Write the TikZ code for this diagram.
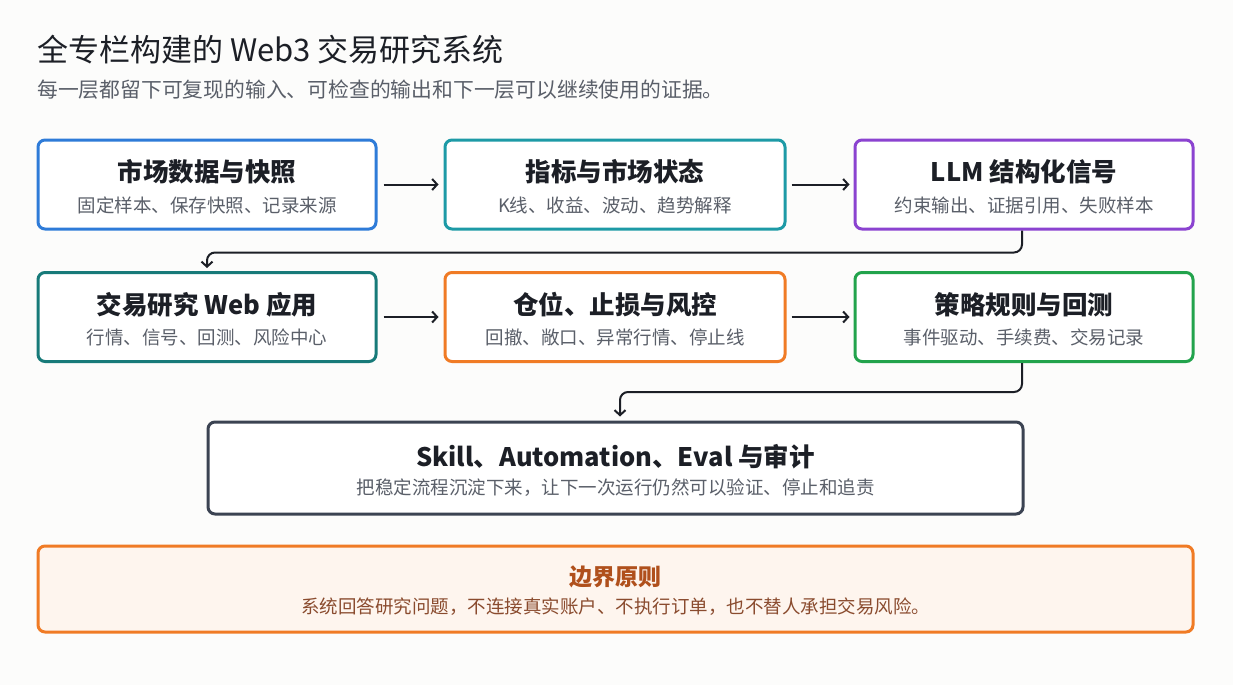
\documentclass[tikz,border=0pt]{standalone}
\usepackage{fontspec}
\setmainfont{Noto Sans CJK SC}
\usetikzlibrary{arrows.meta}
\definecolor{cblue}{HTML}{2E7BD8}
\definecolor{cteal}{HTML}{1D9AA6}
\definecolor{cpurple}{HTML}{8B43D0}
\definecolor{cdteal}{HTML}{177A79}
\definecolor{corange}{HTML}{F07B25}
\definecolor{cgreen}{HTML}{22A34C}
\definecolor{cslate}{HTML}{3B4352}
\definecolor{ctext}{HTML}{1C1F26}
\definecolor{csub}{HTML}{5A5F69}
\definecolor{cbtitle}{HTML}{B0501C}
\definecolor{cbtext}{HTML}{8A4B2E}
\definecolor{cbfill}{HTML}{FEF5EE}
\definecolor{cbg}{HTML}{FCFCFB}
\tikzset{
  box/.style={draw, line width=3pt, rounded corners=7pt, fill=white, minimum height=89pt, inner sep=0pt},
  ttl/.style={font=\bfseries\fontsize{25.5}{30}\selectfont, text=ctext, inner sep=0pt},
  sub/.style={font=\fontsize{18.5}{22}\selectfont, text=csub, inner sep=0pt},
  conn/.style={draw=ctext, line width=2pt, -{Straight Barb[length=5pt,width=11pt,line width=2pt]}},
}
\begin{document}
\begin{tikzpicture}[x=1pt,y=-1pt]
\fill[cbg] (0,0) rectangle (1233,685);
\useasboundingbox (0,0) rectangle (1233,685);
\node[anchor=west, inner sep=0pt, font=\fontsize{31}{36}\selectfont, text=ctext] (title) at (37,50) {全专栏构建的 Web3 交易研究系统};
\node[anchor=west, inner sep=0pt, font=\fontsize{20.8}{24}\selectfont, text=csub] (subtitle) at (37,90) {每一层都留下可复现的输入、可检查的输出和下一层可以继续使用的证据。};
% row 1
\node[box, draw=cblue, minimum width=338pt] (b1) at (207,184.5) {};
\node[box, draw=cteal, minimum width=340pt] (b2) at (615,184.5) {};
\node[box, draw=cpurple, minimum width=338pt] (b3) at (1024,184.5) {};
% row 2
\node[box, draw=cdteal, minimum width=338pt] (b4) at (207,317) {};
\node[box, draw=corange, minimum width=340pt] (b5) at (615,317) {};
\node[box, draw=cgreen, minimum width=338pt] (b6) at (1024,317) {};
% wide
\node[box, draw=cslate, minimum width=815pt, minimum height=92pt] (b7) at (615.5,468) {};
\node[box, draw=corange, fill=cbfill, minimum width=1155pt, minimum height=86pt] (b8) at (615.5,589) {};
% texts
\node[ttl] (t1) at ([yshift=12.5]b1.center) {市场数据与快照};
\node[sub] (s1) at ([yshift=-20.5]b1.center) {固定样本、保存快照、记录来源};
\node[ttl] (t2) at ([yshift=12.5]b2.center) {指标与市场状态};
\node[sub] (s2) at ([yshift=-20.5]b2.center) {K线、收益、波动、趋势解释};
\node[ttl] (t3) at ([yshift=12.5]b3.center) {LLM 结构化信号};
\node[sub] (s3) at ([yshift=-20.5]b3.center) {约束输出、证据引用、失败样本};
\node[ttl] (t4) at ([yshift=12.5]b4.center) {交易研究 Web 应用};
\node[sub] (s4) at ([yshift=-20.5]b4.center) {行情、信号、回测、风险中心};
\node[ttl] (t5) at ([yshift=12.5]b5.center) {仓位、止损与风控};
\node[sub] (s5) at ([yshift=-20.5]b5.center) {回撤、敞口、异常行情、停止线};
\node[ttl] (t6) at ([yshift=12.5]b6.center) {策略规则与回测};
\node[sub] (s6) at ([yshift=-20.5]b6.center) {事件驱动、手续费、交易记录};
\node[ttl] (t7) at ([yshift=11]b7.center) {Skill、Automation、Eval 与审计};
\node[sub] (s7) at ([yshift=-20]b7.center) {把稳定流程沉淀下来，让下一次运行仍然可以验证、停止和追责};
\node[ttl, text=cbtitle, font=\bfseries\fontsize{23}{27}\selectfont] (t8) at ([yshift=12]b8.center) {边界原则};
\node[sub, text=cbtext] (s8) at ([yshift=-18]b8.center) {系统回答研究问题，不连接真实账户、不执行订单，也不替人承担交易风险。};
% connectors
\draw[conn, shorten <=6pt, shorten >=5pt] (b1.east) -- (b2.west);
\draw[conn, shorten <=5pt, shorten >=4pt] (b2.east) -- (b3.west);
\draw[conn, shorten <=6pt, shorten >=5pt] (b4.east) -- (b5.west);
\draw[conn, shorten <=5pt, shorten >=4pt] (b5.east) -- (b6.west);
\draw[conn, rounded corners=8pt, shorten >=3pt] ([xshift=-2]b3.south) -- ++(0,22) -| (b4.north);
\draw[conn, rounded corners=8pt, shorten >=4pt] ([xshift=-2]b6.south) -- ++(0,29) -| ([xshift=4.5]b7.north);
\end{tikzpicture}
\end{document}
